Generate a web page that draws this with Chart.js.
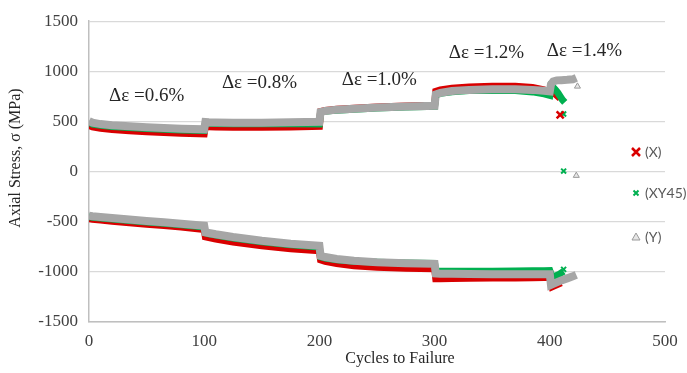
<!DOCTYPE html>
<html>
<head>
<meta charset="utf-8">
<script src="https://cdn.jsdelivr.net/npm/chart.js@4.4.1/dist/chart.umd.min.js"></script>
<style>
html,body{margin:0;padding:0;background:#fff;}
#wrap{width:687px;height:373px;position:relative;}
</style>
</head>
<body>
<div id="wrap"><canvas id="c" width="687" height="373"></canvas></div>
<script>
// ---- data ----
const xTicks = [0, 100, 200, 300, 400, 500];
const yTicks = [-1500, -1000, -500, 0, 500, 1000, 1500];
const seriesNames = ['(X)', '(XY45)', '(Y)'];
const strainLabels = ['Δε =0.6%', 'Δε =0.8%', 'Δε =1.0%', 'Δε =1.2%', 'Δε =1.4%'];
const strainLabelCycles = [50, 148, 252, 345, 430];
const strainLabelStress = [750, 880, 910, 1180, 1200];

// shared cycles for blocks 0.6% .. 1.2%
const cycles = [0,3,10,20,35,50,65,80,100, 101,104,110,125,150,175,200, 201,205,215,230,250,275,300, 301,305,315,330,350,370,385,395,400];

// (Y) gray
const yUp = [505,488,474,463,452,443,435,428,422, 495,492,490,488,488,492,497, 595,605,618,628,640,650,657, 770,785,803,815,822,822,815,806,800];
const yLow = [-440,-445,-452,-462,-478,-492,-505,-520,-540, -605,-612,-625,-652,-690,-720,-740, -840,-852,-872,-890,-905,-915,-920, -1015,-1018,-1020,-1022,-1024,-1025,-1025,-1025,-1025];
const yTailCycles = [401,403,406,410,415,420,423];
const yTailUp = [870,900,910,912,915,920,935];
const yTailLow = [-1130,-1120,-1105,-1085,-1065,-1045,-1030];
const yFailCycles = [424, 423];
const yFailStress = [850, -40];

// (X) red
const xUp = [462,446,432,420,408,398,390,382,376, 450,447,445,443,443,446,452, 598,609,622,632,644,654,661, 800,815,832,845,852,850,840,815,790];
const xLow = [-470,-476,-484,-495,-510,-524,-538,-552,-578, -650,-658,-672,-702,-740,-770,-790, -880,-895,-918,-940,-955,-963,-968, -1068,-1068,-1066,-1064,-1062,-1060,-1058,-1056,-1055];
const xTailCyclesUp = [401,403,405,407,409];
const xTailUp = [800,785,770,750,730];
const xTailCyclesLow = [402,404,406,408,410];
const xTailLow = [-1150,-1140,-1130,-1120,-1110];
const xFailCycles = [409];
const xFailStress = [565];

// (XY45) green
const gUp = [490,474,462,450,440,431,423,416,410, 485,482,480,478,477,478,475, 590,601,613,623,635,645,652, 765,780,797,808,812,808,795,775,760];
const gLow = [-450,-455,-462,-472,-488,-502,-515,-530,-552, -612,-620,-634,-662,-700,-730,-752, -850,-862,-880,-895,-905,-912,-915, -992,-994,-995,-995,-994,-992,-990,-988,-986];
const gTailCyclesUp = [401,403,405,407,409,411,413];
const gTailUp = [850,840,815,785,750,715,690];
const gTailCyclesLow = [402,404,406,408,410,412];
const gTailLow = [-1050,-1045,-1035,-1025,-1010,-995];
const gFailCycles = [412, 412, 412];
const gFailStress = [575, 5, -975];

// ---- styles ----
const RED = '#d90000', GREEN = '#00b050', GRAY = '#a6a6a6';
const SERIF = '"Liberation Serif", "Times New Roman", serif';

function pts(xs, ys) { return xs.map((x, i) => ({x: x, y: ys[i]})); }

function band(label, xs, ys, color, w, order) {
  return {label, data: pts(xs, ys), showLine: true, borderColor: color, backgroundColor: color,
    borderWidth: w, pointRadius: 0, tension: 0, order, borderJoinStyle: 'miter'};
}

const datasets = [
  band('(Y) up', cycles.concat(yTailCycles), yUp.concat(yTailUp), GRAY, 8, 1),
  band('(Y) low', cycles.concat(yTailCycles), yLow.concat(yTailLow), GRAY, 8, 1),
  band('(XY45) up', cycles.concat(gTailCyclesUp), gUp.concat(gTailUp), GREEN, 7, 2),
  band('(XY45) low', cycles.concat(gTailCyclesLow), gLow.concat(gTailLow), GREEN, 7, 2),
  band('(X) up', cycles.concat(xTailCyclesUp), xUp.concat(xTailUp), RED, 7, 3),
  band('(X) low', cycles.concat(xTailCyclesLow), xLow.concat(xTailLow), RED, 7, 3),
  {label:'(X) fail', data: pts(xFailCycles, xFailStress), showLine:false, pointStyle:'crossRot',
    pointRadius:5, borderWidth:2.5, borderColor:RED, order:0},
  {label:'(XY45) fail', data: pts(gFailCycles, gFailStress), showLine:false, pointStyle:'crossRot',
    pointRadius:3.5, borderWidth:2, borderColor:GREEN, order:0},
  {label:'(Y) fail', data: pts(yFailCycles, yFailStress), showLine:false, pointStyle:'triangle',
    pointRadius:3.5, borderWidth:1, borderColor:'#9a9a9a', backgroundColor:'#e6e6e6', order:0}
];

const textPlugin = {
  id: 'texts',
  afterDatasetsDraw(chart) {
    const {ctx, scales: {x, y}} = chart;
    ctx.save();
    // strain amplitude labels
    ctx.font = '19px ' + SERIF;
    ctx.fillStyle = '#262626';
    ctx.textAlign = 'center';
    ctx.textBaseline = 'middle';
    strainLabels.forEach((t, i) => {
      ctx.fillText(t, x.getPixelForValue(strainLabelCycles[i]), y.getPixelForValue(strainLabelStress[i]));
    });
    // axis titles
    ctx.font = '16px ' + SERIF;
    ctx.fillStyle = '#262626';
    ctx.fillText('Cycles to Failure', 400, 359);
    ctx.save();
    ctx.translate(16, 158);
    ctx.rotate(-Math.PI / 2);
    ctx.fillText('Axial Stress, σ (MPa)', 0, 0);
    ctx.restore();
    // legend
    const ly = [152, 193, 237];
    ctx.font = '14px Lato, "Open Sans", sans-serif';
    ctx.fillStyle = '#595959';
    ctx.textAlign = 'left';
    seriesNames.forEach((n, i) => ctx.fillText(n, 645, ly[i]));
    ctx.strokeStyle = RED; ctx.lineWidth = 2.5;
    ctx.beginPath(); ctx.moveTo(632,148); ctx.lineTo(640,156); ctx.moveTo(640,148); ctx.lineTo(632,156); ctx.stroke();
    ctx.strokeStyle = GREEN; ctx.lineWidth = 2;
    ctx.beginPath(); ctx.moveTo(633.5,190.5); ctx.lineTo(638.5,195.5); ctx.moveTo(638.5,190.5); ctx.lineTo(633.5,195.5); ctx.stroke();
    ctx.strokeStyle = '#9a9a9a'; ctx.fillStyle = '#e6e6e6'; ctx.lineWidth = 1;
    ctx.beginPath(); ctx.moveTo(636, 233); ctx.lineTo(640, 240); ctx.lineTo(632, 240); ctx.closePath(); ctx.fill(); ctx.stroke();
    ctx.restore();
  }
};

new Chart(document.getElementById('c'), {
  type: 'scatter',
  data: {datasets},
  options: {
    responsive: false,
    animation: false,
    events: [],
    layout: {padding: {left: 0, right: 22, top: 18, bottom: 0}},
    plugins: {legend: {display: false}, tooltip: {enabled: false}},
    scales: {
      x: {
        type: 'linear', min: 0, max: 500,
        afterBuildTicks: s => { s.ticks = xTicks.map(v => ({value: v})); },
        afterFit: s => { s.height = 51; },
        grid: {display: false, drawTicks: false},
        border: {display: true, color: '#bfbfbf', width: 1.5},
        ticks: {font: {family: SERIF, size: 17}, color: '#404040', padding: 9, maxRotation: 0,
          callback: v => String(v)}
      },
      y: {
        type: 'linear', min: -1500, max: 1500,
        afterBuildTicks: s => { s.ticks = yTicks.map(v => ({value: v})); },
        afterFit: s => { s.width = 89; },
        grid: {color: '#d9d9d9', lineWidth: 1.2, drawTicks: false},
        border: {display: true, color: '#bfbfbf', width: 1.5},
        ticks: {font: {family: SERIF, size: 17}, color: '#404040', padding: 11,
          callback: v => String(v)}
      }
    }
  },
  plugins: [textPlugin]
});
</script>
</body>
</html>
